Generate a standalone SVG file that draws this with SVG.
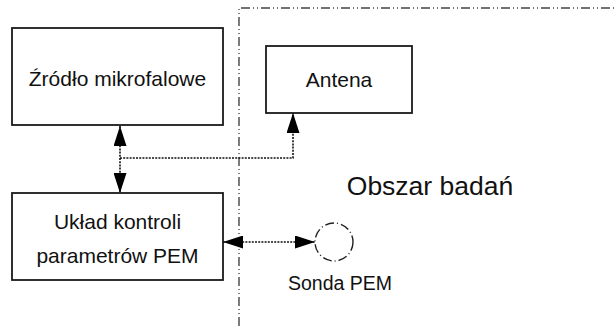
<svg xmlns="http://www.w3.org/2000/svg" width="614" height="326" viewBox="0 0 614 326">
<style>
.box{fill:#fff;stroke:#1a1a1a;stroke-width:1.8}
.lbl{font-family:"Liberation Sans",Arial,sans-serif;font-size:21px;fill:#111;text-anchor:middle}
.con{fill:none;stroke:#111;stroke-width:1.6;stroke-dasharray:2 1.2}
.bound{fill:none;stroke:#444;stroke-width:1.4;stroke-dasharray:9 3 1 3 1 3}
</style>
<defs>
<marker id="ah" viewBox="0 0 20 13" refX="20" refY="6.5" markerWidth="20" markerHeight="13" markerUnits="userSpaceOnUse" orient="auto-start-reverse">
<path d="M0,0 L20,6.5 L0,13 z" fill="#000"/>
</marker>
</defs>
<g id="boundary">
<path class="bound" d="M239,326 V8 H614"/>
</g>
<g id="zrodlo">
<rect class="box" x="12" y="28" width="211" height="97"/>
<text class="lbl" x="117.5" y="86">Źródło mikrofalowe</text>
</g>
<g id="antena">
<rect class="box" x="266" y="46" width="146" height="67"/>
<text class="lbl" x="339" y="87">Antena</text>
</g>
<g id="uklad">
<rect class="box" x="12" y="193" width="211" height="87"/>
<text class="lbl" x="117.5" y="229">Układ kontroli</text>
<text class="lbl" x="117.5" y="263">parametrów PEM</text>
</g>
<g id="sonda">
<circle cx="334" cy="242" r="19" fill="none" stroke="#222" stroke-width="1.4" stroke-dasharray="9 3 1 3"/>
<text class="lbl" x="340" y="290" style="font-size:19.5px">Sonda PEM</text>
</g>
<g id="obszar">
<text x="430" y="195" style="font-family:'Liberation Sans',Arial,sans-serif;font-size:26.5px;fill:#111;text-anchor:middle">Obszar badań</text>
</g>
<g id="connectors">
<path class="con" d="M120,126 V193" marker-start="url(#ah)" marker-end="url(#ah)"/>
<path class="con" d="M120,158 H293 V113" marker-end="url(#ah)"/>
<path class="con" d="M223,242 H315" marker-start="url(#ah)" marker-end="url(#ah)"/>
</g>
</svg>
